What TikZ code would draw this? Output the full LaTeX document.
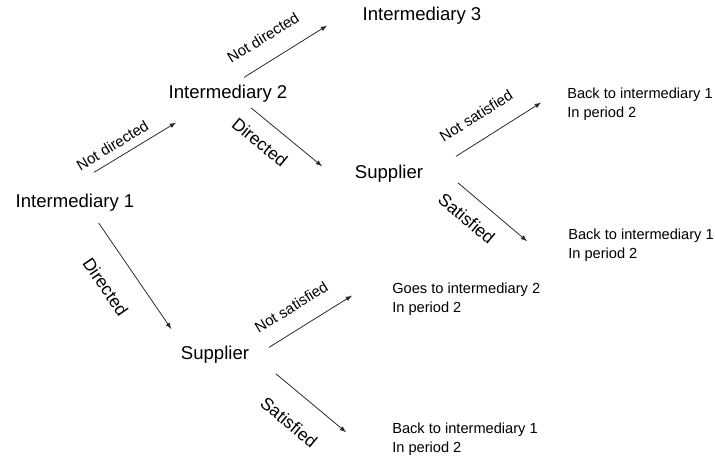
\documentclass[tikz,border=0pt]{standalone}
\usepackage{fontspec}
\setmainfont{Liberation Sans}
\usetikzlibrary{arrows}
\pgfdeclarelayer{edgelayer}
\pgfdeclarelayer{nodelayer}
\pgfsetlayers{edgelayer,nodelayer,main}
\tikzstyle{none}=[inner sep=0pt]
\tikzstyle{party}=[inner sep=0pt,font=\fontsize{13.2}{15}\selectfont]
\tikzstyle{outcome}=[inner sep=0pt,anchor=west,align=left,font=\fontsize{10.4}{13.5}\selectfont]
\tikzstyle{choice}=[inner sep=0pt,sloped,font=\fontsize{10.7}{12}\selectfont]
\tikzstyle{verdict}=[inner sep=0pt,sloped,font=\fontsize{12.5}{14}\selectfont]
\tikzstyle{transition}=[-latex,draw=black!85,line width=0.55pt]

\begin{document}
\begin{tikzpicture}
	\useasboundingbox (0, 0) rectangle (17.875, 11.475);
	\begin{pgfonlayer}{nodelayer}
		\node [style=party] (0) at (1.875, 6.4) {Intermediary 1};
		\node [style=party] (1) at (5.7, 9.125) {Intermediary 2};
		\node [style=party] (2) at (10.55, 11.075) {Intermediary 3};
		\node [style=party] (3) at (9.725, 7.125) {Supplier};
		\node [style=party] (4) at (5.375, 2.6) {Supplier};
		\node [style=outcome] (5) at (14.175, 8.875) {Back to intermediary 1\\In period 2};
		\node [style=outcome] (6) at (14.2, 5.35) {Back to intermediary 1\\In period 2};
		\node [style=outcome] (7) at (9.8, 4.0) {Goes to intermediary 2\\In period 2};
		\node [style=outcome] (8) at (9.8, 0.5) {Back to intermediary 1\\In period 2};
		% arrow ends
		\node [style=none] (9) at (2.325, 7.15) {};
		\node [style=none] (10) at (4.425, 8.425) {};
		\node [style=none] (11) at (6.075, 9.525) {};
		\node [style=none] (12) at (8.2, 10.85) {};
		\node [style=none] (13) at (6.25, 8.8) {};
		\node [style=none] (14) at (8.075, 7.3) {};
		\node [style=none] (15) at (2.45, 5.925) {};
		\node [style=none] (16) at (4.3, 3.225) {};
		\node [style=none] (17) at (11.375, 7.55) {};
		\node [style=none] (18) at (13.55, 8.925) {};
		\node [style=none] (19) at (11.425, 6.925) {};
		\node [style=none] (20) at (13.2, 5.425) {};
		\node [style=none] (21) at (6.7, 2.775) {};
		\node [style=none] (22) at (8.825, 4.1) {};
		\node [style=none] (23) at (6.875, 2.15) {};
		\node [style=none] (24) at (8.675, 0.65) {};
	\end{pgfonlayer}
	\begin{pgfonlayer}{edgelayer}
		\draw [style=transition] (9) to node[style=choice, pos=0.31, above=5.4pt]{Not directed} (10);
		\draw [style=transition] (11) to node[style=choice, pos=0.38, above=12.6pt]{Not directed} (12);
		\draw [style=transition] (13) to node[style=verdict, pos=0.31, below=9.9pt]{Directed} (14);
		\draw [style=transition] (15) to node[style=verdict, pos=0.44, below=16.8pt]{Directed} (16);
		\draw [style=transition] (17) to node[style=choice, pos=0.385, above=12.6pt]{Not satisfied} (18);
		\draw [style=transition] (19) to node[style=verdict, pos=0.33, below=10.6pt]{Satisfied} (20);
		\draw [style=transition] (21) to node[style=choice, pos=0.41, above=11.7pt]{Not satisfied} (22);
		\draw [style=transition] (23) to node[style=verdict, pos=0.45, below=15.6pt]{Satisfied} (24);
	\end{pgfonlayer}
\end{tikzpicture}
\end{document}
